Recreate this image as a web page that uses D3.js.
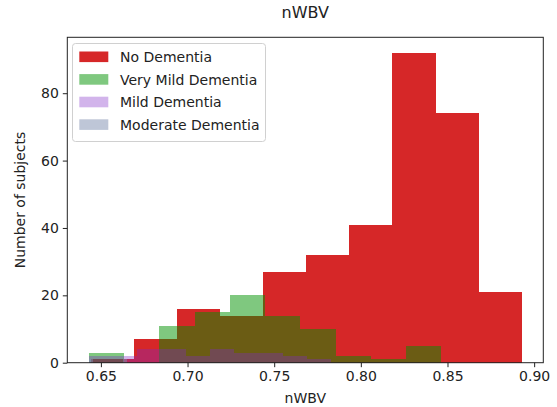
<!DOCTYPE html>
<html>
<head>
<meta charset="utf-8">
<script src="https://cdn.jsdelivr.net/npm/d3@7/dist/d3.min.js"></script>
<style>
  html, body { margin: 0; padding: 0; background: #fff; }
  svg { display: block; font-family: "DejaVu Sans", sans-serif; }
</style>
</head>
<body>
<svg id="chart" width="557" height="407"></svg>
<script>
// Histogram bin ranges (nWBV) and counts per group, 10 equal bins each
const groups = ["No Dementia", "Very Mild Dementia", "Mild Dementia", "Moderate Dementia"];
const noDementiaRange = [0.6443, 0.8928];
const noDementiaCounts = [1, 7, 16, 14, 27, 32, 41, 92, 74, 21];
const veryMildRange = [0.6431, 0.8464];
const veryMildCounts = [3, 0, 11, 15, 20, 14, 10, 2, 1, 5];
const mildRange = [0.6431, 0.7828];
const mildCounts = [2, 2, 4, 4, 2, 4, 3, 3, 2, 1];
const moderateRange = [0.6431, 0.6651];
const moderateCounts = [1, 0, 0, 0, 0, 0, 0, 0, 0, 1];
const xTicks = [0.65, 0.70, 0.75, 0.80, 0.85, 0.90];
const yTicks = [0, 20, 40, 60, 80];

const series = [
  { name: groups[0], range: noDementiaRange, counts: noDementiaCounts, color: "#d62728", opacity: 1 },
  { name: groups[1], range: veryMildRange, counts: veryMildCounts, color: "rgb(0,145,0)", opacity: 0.5 },
  { name: groups[2], range: mildRange, counts: mildCounts, color: "rgb(126,40,197)", opacity: 0.35 },
  { name: groups[3], range: moderateRange, counts: moderateCounts, color: "rgb(125,141,175)", opacity: 0.5 }
];

// Expand each series into bins
series.forEach(s => {
  const n = s.counts.length, w = (s.range[1] - s.range[0]) / n;
  s.bins = s.counts.map((c, i) => ({ x0: s.range[0] + i * w, x1: s.range[0] + (i + 1) * w, count: c }));
});

const plot = { left: 67.3, right: 543.3, top: 37.3, bottom: 362.7 };
const FS = 14;

const dataMin = d3.min(series, s => s.range[0]);
const dataMax = d3.max(series, s => s.range[1]);
const pad = (dataMax - dataMin) * 0.05;
const x = d3.scaleLinear().domain([dataMin - pad, dataMax + pad]).range([plot.left, plot.right]);
const yMax = d3.max(series, s => d3.max(s.counts)) * 1.05;
const y = d3.scaleLinear().domain([0, yMax]).range([plot.bottom, plot.top]);

const svg = d3.select("#chart");

// Bars
series.forEach(s => {
  svg.append("g")
    .attr("shape-rendering", "crispEdges")
    .selectAll("rect")
    .data(s.bins.filter(b => b.count > 0))
    .join("rect")
    .attr("x", b => x(b.x0))
    .attr("width", b => x(b.x1) - x(b.x0))
    .attr("y", b => y(b.count))
    .attr("height", b => y(0) - y(b.count))
    .attr("fill", s.color)
    .attr("fill-opacity", s.opacity);
});

// Axes
const xAxis = svg.append("g")
  .attr("transform", `translate(0,${plot.bottom})`)
  .call(d3.axisBottom(x).tickValues(xTicks).tickFormat(d3.format(".2f")).tickSize(4.5).tickPadding(4).tickSizeOuter(0));
const yAxis = svg.append("g")
  .attr("transform", `translate(${plot.left},0)`)
  .call(d3.axisLeft(y).tickValues(yTicks).tickSize(4.5).tickPadding(4).tickSizeOuter(0));
[xAxis, yAxis].forEach(a => {
  a.select(".domain").remove();
  a.selectAll("text").attr("font-size", FS).attr("fill", "#222").attr("font-family", "DejaVu Sans, sans-serif");
  a.selectAll("line").attr("stroke", "#222").attr("stroke-width", 1);
});

// Frame
svg.append("rect")
  .attr("x", plot.left).attr("y", plot.top)
  .attr("width", plot.right - plot.left).attr("height", plot.bottom - plot.top)
  .attr("fill", "none").attr("stroke", "#222").attr("stroke-width", 1);

// Titles
svg.append("text").attr("x", (plot.left + plot.right) / 2).attr("y", 18)
  .attr("text-anchor", "middle").attr("font-size", 16).attr("fill", "#222").text("nWBV");
svg.append("text").attr("x", (plot.left + plot.right) / 2).attr("y", 403)
  .attr("text-anchor", "middle").attr("font-size", FS).attr("fill", "#222").text("nWBV");
svg.append("text").attr("transform", `translate(25,${(plot.top + plot.bottom) / 2}) rotate(-90)`)
  .attr("text-anchor", "middle").attr("font-size", FS).attr("fill", "#222").text("Number of subjects");

// Legend
const legend = svg.append("g").attr("transform", "translate(72.5,43.5)");
legend.append("rect").attr("width", 193).attr("height", 98).attr("rx", 3)
  .attr("fill", "#fff").attr("fill-opacity", 0.8).attr("stroke", "#d0d0d0");
series.forEach((s, i) => {
  const row = legend.append("g").attr("transform", `translate(0,${8 + i * 22.6})`);
  row.append("rect").attr("x", 6.8).attr("y", 0).attr("width", 29).attr("height", 10.6)
    .attr("fill", s.color).attr("fill-opacity", s.opacity);
  row.append("text").attr("x", 47.5).attr("y", 10.5).attr("font-size", FS).attr("fill", "#222").text(s.name);
});
</script>
</body>
</html>
